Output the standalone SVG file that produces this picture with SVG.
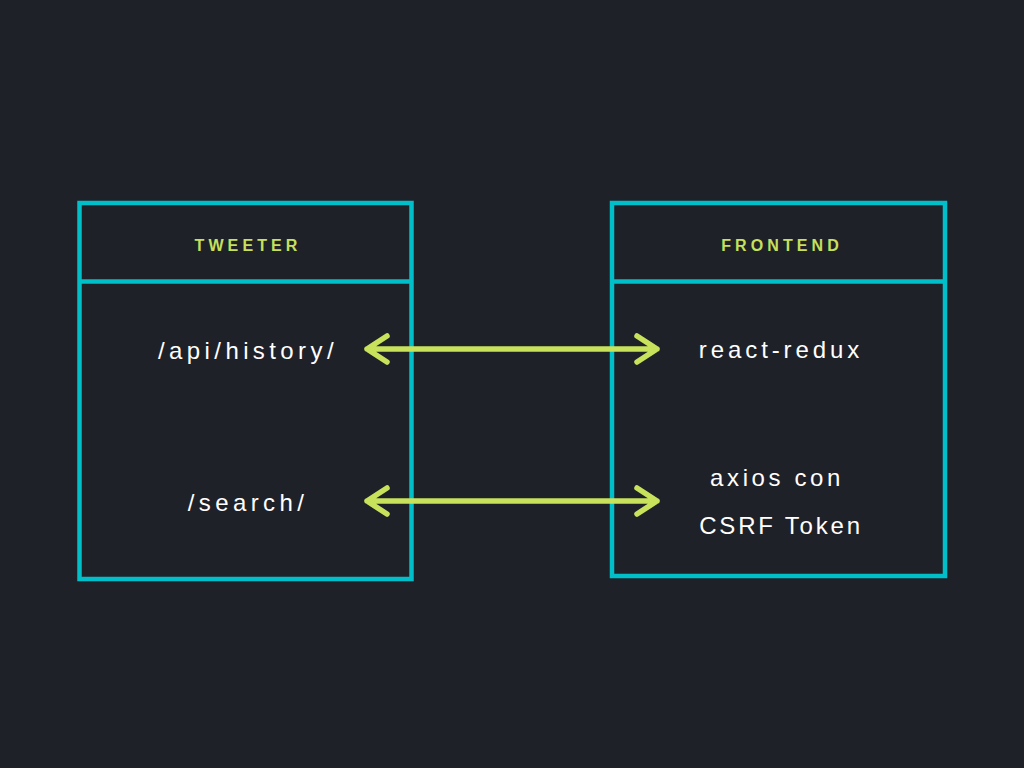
<svg xmlns="http://www.w3.org/2000/svg" width="1024" height="768" viewBox="0 0 1024 768">
<defs>
<style>
.box{fill:none;stroke:#00bfc9;stroke-width:4.5}
.hdr{font-family:"Liberation Sans",Arial,sans-serif;font-weight:bold;font-size:16px;letter-spacing:4.1px;fill:#c6e05c;text-anchor:middle}
.lbl{font-family:"Liberation Sans",Arial,sans-serif;font-size:24px;letter-spacing:4.4px;fill:#ffffff;text-anchor:middle}
.arr{fill:none;stroke:#c8e25b;stroke-width:5.5;stroke-linecap:round;stroke-linejoin:round}
</style>
</defs>
<rect width="1024" height="768" fill="#1f2129"/>
<g id="tweeter">
<rect class="box" x="79.5" y="203" width="332" height="376"/>
<line class="box" x1="79.5" y1="281.5" x2="411.5" y2="281.5"/>
<text class="hdr" x="248" y="251">TWEETER</text>
<text class="lbl" x="248" y="359">/api/history/</text>
<text class="lbl" x="248" y="511">/search/</text>
</g>
<g id="frontend">
<rect class="box" x="612" y="203" width="333" height="373"/>
<line class="box" x1="612" y1="281.5" x2="945" y2="281.5"/>
<text class="hdr" x="782" y="251">FRONTEND</text>
<text class="lbl" x="781" y="358" style="letter-spacing:3.9px">react-redux</text>
<text class="lbl" x="777" y="486" style="letter-spacing:3.6px">axios con</text>
<text class="lbl" x="781" y="534" style="letter-spacing:2.8px">CSRF Token</text>
</g>
<g id="connectors">
<path class="arr" d="M367 349H657M387 336L367 349L387 362M637 336L657 349L637 362"/>
<path class="arr" d="M367 501H657M387 488L367 501L387 514M637 488L657 501L637 514"/>
</g>
</svg>
